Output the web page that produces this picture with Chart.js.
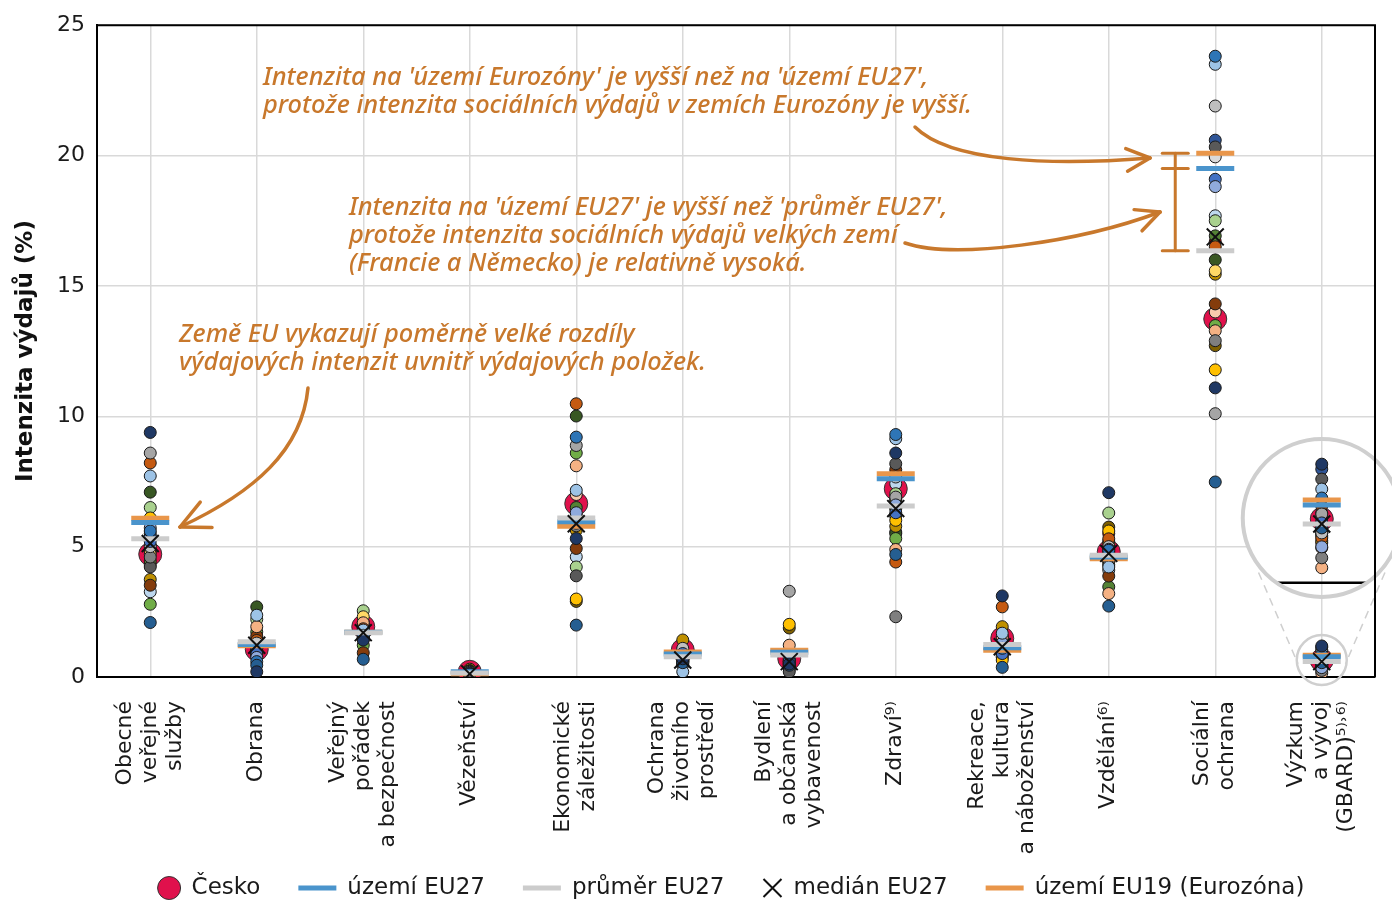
<!DOCTYPE html>
<html><head><meta charset="utf-8">
<script src="https://cdn.jsdelivr.net/npm/chart.js@4.4.1/dist/chart.umd.min.js"></script>
<style>html,body{margin:0;padding:0;background:#fff}#wrap{width:1392px;height:901px}</style>
</head><body><div id="wrap"><canvas id="c" width="1392" height="901"></canvas></div>
<script>
// ---------- DATA ----------
const categories = [
  ['Obecné','veřejné','služby'],
  ['Obrana'],
  ['Veřejný','pořádek','a bezpečnost'],
  ['Vězeňství'],
  ['Ekonomické','záležitosti'],
  ['Ochrana','životního','prostředí'],
  ['Bydlení','a občanská','vybavenost'],
  ['Zdraví⁹⁾'],
  ['Rekreace,','kultura','a náboženství'],
  ['Vzdělání⁶⁾'],
  ['Sociální','ochrana'],
  ['Výzkum','a vývoj','(GBARD)⁵⁾˒⁶⁾']
];
const yTicks = [0, 5, 10, 15, 20, 25];

const cesko      = [4.71, 1.06, 1.93, 0.20, 6.65, 1.03, 0.71, 7.22, 1.48, 4.80, 13.73, 0.64];
const uzemiEU27  = [5.93, 1.25, 1.72, 0.20, 5.95, 0.88, 0.95, 7.60, 1.12, 4.60, 19.50, 0.78];
const prumerEU27 = [5.30, 1.35, 1.70, 0.15, 6.10, 0.78, 0.84, 6.56, 1.25, 4.67, 16.35, 0.59];
const medianEU27 = [5.12, 1.22, 1.70, 0.12, 5.88, 0.65, 0.59, 6.46, 1.16, 4.74, 16.88, 0.59];
const uzemiEU19  = [6.09, 1.20, 1.72, 0.12, 5.78, 0.96, 1.03, 7.80, 1.03, 4.54, 20.09, 0.83];

const countries = ['BE','BG','DK','DE','EE','IE','EL','ES','FR','HR','IT','CY','LV','LT','LU','HU','MT','NL','AT','PL','PT','RO','SI','SK','FI','SE'];

// values of the other member states, one array per category (order = countries)
const obecneSluzby   = [9.38, 2.09, 5.6, 7.71, 5.72, 5.2, 5.0, 8.59, 4.6, 4.22, 8.21, 5.05, 3.52, 6.10, 4.71, 3.74, 4.9, 6.50, 2.79, 4.45, 7.09, 4.8, 5.4, 3.27, 4.3, 5.5];
const obrana         = [0.2, 0.45, 0.59, 2.37, 0.75, 1.0, 1.3, 1.1, 0.95, 0.88, 1.4, 1.93, 1.57, 1.2, 1.15, 1.25, 0.9, 2.21, 1.73, 1.35, 2.69, 1.1, 1.45, 1.0, 1.3, 0.8];
const poradek        = [1.42, 0.68, 1.6, 1.8, 1.5, 1.75, 1.7, 1.65, 1.55, 1.6, 1.85, 2.08, 0.93, 1.9, 2.31, 1.8, 1.5, 2.54, 1.22, 1.7, 1.9, 1.75, 2.0, 1.45, 2.1, 1.6];
const vezenstvi      = [0.12, 0.1, 0.15, 0.18, 0.14, 0.1, 0.2, 0.16, 0.12, 0.18, 0.22, 0.15, 0.25, 0.3, 0.2, 0.28, 0.14, 0.12, 0.16, 0.1, 0.08, 0.13, 0.17, 0.09, 0.11, 0.19];
const ekonomicke     = [5.31, 1.99, 9.2, 7.16, 6.3, 5.9, 6.0, 8.88, 5.8, 3.88, 10.48, 8.1, 4.93, 2.99, 6.2, 5.63, 2.9, 4.22, 8.59, 6.5, 10.01, 5.7, 6.1, 4.61, 7.0, 5.85];
const zivotniProstr  = [0.7, 0.55, 0.8, 0.2, 0.6, 0.9, 1.1, 1.05, 0.65, 0.46, 0.75, 0.85, 0.95, 1.0, 0.7, 1.42, 0.6, 0.8, 0.65, 0.55, 0.7, 0.6, 0.9, 0.5, 0.75, 0.65];
const bydleni        = [0.5, 0.45, 0.6, 0.7, 0.55, 0.5, 0.8, 3.29, 0.6, 0.2, 0.65, 1.22, 0.39, 2.02, 0.9, 0.75, 1.88, 0.5, 0.4, 0.45, 0.35, 0.6, 0.8, 0.55, 0.9, 0.3];
const zdravi         = [8.59, 4.7, 9.3, 9.14, 6.6, 6.3, 7.67, 6.9, 2.31, 8.18, 4.41, 4.89, 7.95, 6.01, 6.2, 5.78, 6.74, 7.03, 5.31, 6.46, 5.5, 6.5, 6.8, 7.41, 6.2, 5.56];
const rekreace       = [3.11, 0.37, 1.1, 1.68, 1.3, 0.9, 1.2, 1.3, 1.0, 0.97, 2.69, 1.5, 1.44, 0.65, 0.8, 1.93, 1.55, 1.1, 0.9, 1.2, 1.0, 0.85, 1.25, 1.15, 0.75, 1.05];
const vzdelani       = [7.07, 2.72, 4.86, 4.22, 4.6, 4.9, 5.0, 4.7, 4.5, 4.75, 5.3, 3.2, 3.87, 5.6, 4.48, 5.12, 5.75, 6.29, 4.4, 3.46, 4.3, 5.5, 5.2, 4.1, 4.8, 4.6];
const socialniOchr   = [11.09, 7.48, 23.81, 23.5, 18.81, 19.09, 21.9, 10.1, 12.9, 20.33, 16.5, 13.28, 14.31, 11.78, 15.58, 15.45, 12.71, 17.5, 13.48, 16.92, 16.0, 16.7, 20.59, 17.69, 14.0, 19.95];
const vyzkum         = [1.19, 0.55, 0.85, 0.94, 0.36, 0.6, 0.5, 0.69, 0.25, 1.04, 0.45, 0.15, 0.77, 0.42, 0.5, 0.6, 0.55, 0.65, 0.47, 0.6, 0.7, 0.4, 1.14, 0.55, 0.35, 0.5];

const valuesByCategory = [obecneSluzby, obrana, poradek, vezenstvi, ekonomicke, zivotniProstr, bydleni, zdravi, rekreace, vzdelani, socialniOchr, vyzkum];

const legendLabels = ['Česko', 'území EU27', 'průměr EU27', 'medián EU27', 'území EU19 (Eurozóna)'];
const annotationTexts = [
  ["Intenzita na 'území Eurozóny' je vyšší než na 'území EU27',", "protože intenzita sociálních výdajů v zemích Eurozóny je vyšší."],
  ["Intenzita na 'území EU27' je vyšší než 'průměr EU27',", "protože intenzita sociálních výdajů velkých zemí", "(Francie a Německo) je relativně vysoká."],
  ["Země EU vykazují poměrně velké rozdíly", "výdajových intenzit uvnitř výdajových položek."]
];

// ---------- STYLES ----------
const countryColors = ['#1f3864','#255e91','#2e75b6','#9dc3e6','#8faadc','#4472c4','#bfbfbf','#a5a5a5','#7f7f7f','#595959','#c55a11','#f4b183','#843c0c','#ffc000','#ffd966','#bf9000','#7f6000','#a9d18e','#70ad47','#548235','#385723','#ff0000','#2f5597','#bdd7ee','#f8cbad','#d9d9d9'];
const C_CZ = '#e0114c', C_EU27 = '#4a94cc', C_MEAN = '#cccccc', C_EU19 = '#e9964a', C_ANNO = '#c8782c';
const FONT = '"DejaVu Sans", sans-serif';
const annoPos = [ {x: 263, y: 78}, {x: 349, y: 208}, {x: 179, y: 335} ];
const lineGap = 28;

Chart.defaults.font.family = FONT;
Chart.defaults.font.size = 22;
Chart.defaults.color = '#1a1a1a';

function padLabel(lines) {
  const slots = ['', '', '', '', ''];
  const start = 2 - (lines.length - 1);
  lines.forEach((l, j) => { slots[start + 2 * j] = l; });
  return slots;
}

const datasets = [];
datasets.push({ label: legendLabels[0], data: cesko, pointRadius: 11.5, pointBackgroundColor: C_CZ, pointBorderColor: '#333', pointBorderWidth: 1, order: 10 });
countries.forEach((name, i) => {
  datasets.push({ label: name, data: valuesByCategory.map(col => col[i]), pointRadius: 6, pointBackgroundColor: countryColors[i], pointBorderColor: '#1a1a1a', pointBorderWidth: 1, order: 5 });
});
datasets.push({ label: legendLabels[4], data: uzemiEU19, pointStyle: 'line', pointRadius: 19, pointBorderColor: C_EU19, pointBackgroundColor: C_EU19, pointBorderWidth: 5, order: 3 });
datasets.push({ label: legendLabels[1], data: uzemiEU27, pointStyle: 'line', pointRadius: 19, pointBorderColor: C_EU27, pointBackgroundColor: C_EU27, pointBorderWidth: 5, order: 2 });
datasets.push({ label: legendLabels[2], data: prumerEU27, pointStyle: 'line', pointRadius: 19, pointBorderColor: C_MEAN, pointBackgroundColor: C_MEAN, pointBorderWidth: 5, order: 1 });
datasets.push({ label: legendLabels[3], data: medianEU27, pointStyle: 'crossRot', pointRadius: 12, pointBorderColor: '#111', pointBackgroundColor: '#111', pointBorderWidth: 2, order: 0 });
datasets.forEach(d => { d.showLine = false; });

function ds(label) { return datasets.find(d => d.label === label); }

function arrow(ctx, pts, barb) {
  ctx.beginPath();
  ctx.moveTo(pts[0][0], pts[0][1]);
  ctx.bezierCurveTo(pts[1][0], pts[1][1], pts[2][0], pts[2][1], pts[3][0], pts[3][1]);
  ctx.stroke();
  const [ex, ey] = pts[3];
  const ang = Math.atan2(ey - pts[2][1], ex - pts[2][0]);
  [0.45, -0.45].forEach(da => {
    ctx.beginPath();
    ctx.moveTo(ex, ey);
    ctx.lineTo(ex - barb * Math.cos(ang + da), ey - barb * Math.sin(ang + da));
    ctx.stroke();
  });
}

const extras = {
  id: 'extras',
  afterDatasetsDraw(chart) {
    const { ctx, chartArea: a, scales: { x, y } } = chart;
    // ---- magnifier ----
    const cat = 11, R = 79, r = 25, k = 3.82;
    const cx = x.getPixelForValue(cat);
    const by = y.getPixelForValue(6.1), sy = y.getPixelForValue(0.65);
    const map = py => by + (py - sy) * k;
    ctx.save();
    ctx.strokeStyle = '#cfcfcf'; ctx.lineWidth = 1.5; ctx.setLineDash([8, 6]);
    [-1, 1].forEach(s => {
      ctx.beginPath();
      ctx.moveTo(cx + s * 0.80 * R, by + 0.69 * R);
      ctx.lineTo(cx + s * 0.95 * r, sy + 0.15 * r);
      ctx.stroke();
    });
    ctx.restore();
    ctx.save();
    ctx.beginPath(); ctx.arc(cx, by, R, 0, Math.PI * 2); ctx.fillStyle = '#fff'; ctx.fill(); ctx.clip();
    ctx.strokeStyle = '#d9d9d9'; ctx.lineWidth = 1.5;
    ctx.beginPath(); ctx.moveTo(cx, by - R); ctx.lineTo(cx, by + R); ctx.stroke();
    ctx.strokeStyle = '#000'; ctx.lineWidth = 2.5;
    const z = map(y.getPixelForValue(0));
    ctx.beginPath(); ctx.moveTo(cx - R, z); ctx.lineTo(a.right, z); ctx.stroke();
    const metas = chart.getSortedVisibleDatasetMetas();
    for (let i = metas.length - 1; i >= 0; i--) {
      const el = metas[i].data[cat];
      if (!el) continue;
      const oy = el.y; el.y = map(oy); el.draw(ctx); el.y = oy;
    }
    ctx.restore();
    ctx.save();
    ctx.strokeStyle = '#cfcfcf';
    ctx.lineWidth = 4; ctx.beginPath(); ctx.arc(cx, by, R, 0, Math.PI * 2); ctx.stroke();
    ctx.lineWidth = 2.5; ctx.beginPath(); ctx.arc(cx, sy, r, 0, Math.PI * 2); ctx.stroke();
    ctx.strokeStyle = '#000'; ctx.lineWidth = 2;
    ctx.beginPath(); ctx.moveTo(a.left, a.top); ctx.lineTo(a.right, a.top); ctx.lineTo(a.right, a.bottom); ctx.stroke();
    ctx.restore();

    // ---- annotations ----
    ctx.save();
    ctx.fillStyle = C_ANNO; ctx.strokeStyle = C_ANNO;
    ctx.textBaseline = 'middle'; ctx.textAlign = 'left';
    ctx.font = 'italic 500 24px "Noto Sans"';
    const w = ctx.measureText(annotationTexts[0][1]).width;
    const size = 24 * 709 / w;
    ctx.font = `italic 500 ${size.toFixed(2)}px "Noto Sans"`;
    annotationTexts.forEach((lines, i) => {
      lines.forEach((t, j) => ctx.fillText(t, annoPos[i].x, annoPos[i].y + j * lineGap));
    });
    ctx.lineWidth = 3.5; ctx.lineCap = 'round'; ctx.lineJoin = 'round';
    arrow(ctx, [[915, 127], [950, 162], [1050, 166], [1150, 158]], 26);
    arrow(ctx, [[905, 243], [955, 260], [1080, 242], [1160, 212]], 26);
    arrow(ctx, [[308, 388], [302, 450], [255, 492], [180, 527]], 32);
    const bx = x.getPixelForValue(10) - 40;
    const yTop = y.getPixelForValue(uzemiEU19[10]), yMid = y.getPixelForValue(uzemiEU27[10]), yBot = y.getPixelForValue(prumerEU27[10]);
    ctx.lineWidth = 3;
    ctx.beginPath(); ctx.moveTo(bx, yTop); ctx.lineTo(bx, yBot); ctx.stroke();
    [yTop, yMid, yBot].forEach(yy => { ctx.beginPath(); ctx.moveTo(bx - 13, yy); ctx.lineTo(bx + 13, yy); ctx.stroke(); });
    ctx.restore();

    // ---- legend ----
    ctx.save();
    ctx.font = `23px ${FONT}`; ctx.textBaseline = 'middle'; ctx.fillStyle = '#1a1a1a';
    const items = [
      { sym: 'circle', d: ds(legendLabels[0]), w: 23 },
      { sym: 'line', d: ds(legendLabels[1]), w: 38 },
      { sym: 'line', d: ds(legendLabels[2]), w: 38 },
      { sym: 'cross', d: ds(legendLabels[3]), w: 20 },
      { sym: 'line', d: ds(legendLabels[4]), w: 38 }
    ];
    const symGap = 11, itemGap = 38, ly = 888;
    let total = 0;
    items.forEach((it, i) => { it.tw = ctx.measureText(it.d.label).width; total += it.w + symGap + it.tw + (i ? itemGap : 0); });
    let lx = 731 - total / 2;
    items.forEach(it => {
      if (it.sym === 'circle') {
        ctx.beginPath(); ctx.arc(lx + 11.5, ly, 11.5, 0, Math.PI * 2); ctx.fillStyle = it.d.pointBackgroundColor; ctx.fill();
        ctx.strokeStyle = '#333'; ctx.lineWidth = 1; ctx.stroke();
      } else if (it.sym === 'line') {
        ctx.strokeStyle = it.d.pointBorderColor; ctx.lineWidth = 5;
        ctx.beginPath(); ctx.moveTo(lx, ly); ctx.lineTo(lx + it.w, ly); ctx.stroke();
      } else {
        ctx.strokeStyle = '#111'; ctx.lineWidth = 2;
        ctx.beginPath(); ctx.moveTo(lx + 1, ly - 9); ctx.lineTo(lx + 19, ly + 9); ctx.moveTo(lx + 19, ly - 9); ctx.lineTo(lx + 1, ly + 9); ctx.stroke();
      }
      lx += it.w + symGap;
      ctx.fillStyle = '#1a1a1a';
      ctx.fillText(it.d.label, lx, ly);
      lx += it.tw + itemGap;
    });
    ctx.restore();
  }
};

new Chart(document.getElementById('c'), {
  type: 'line',
  data: { labels: categories.map(c => c.join(' ')), datasets },
  options: {
    responsive: false, animation: false, events: [],
    layout: { autoPadding: false, padding: { left: 0, right: 17, top: 24, bottom: 41 } },
    plugins: { legend: { display: false }, tooltip: { enabled: false } },
    scales: {
      x: {
        type: 'category', offset: true,
        grid: { color: '#d9d9d9', lineWidth: 1.5, drawTicks: false },
        border: { color: '#000', width: 2 },
        ticks: {
          autoSkip: false, maxRotation: 90, minRotation: 90, padding: 24, labelOffset: -25,
          font: { size: 22, lineHeight: '12.5px' }, color: '#1a1a1a',
          callback: (v, i) => padLabel(categories[i])
        },
        afterFit: s => { s.height = 183; s.paddingLeft = 0; s.paddingRight = 0; }
      },
      y: {
        min: 0, max: 25,
        afterBuildTicks: s => { s.ticks = yTicks.map(v => ({ value: v })); },
        ticks: { padding: 12, font: { size: 22 }, color: '#1a1a1a' },
        grid: { color: '#d9d9d9', lineWidth: 1.5, drawTicks: false },
        border: { color: '#000', width: 2 },
        title: { display: true, text: 'Intenzita výdajů (%)', font: { size: 23, weight: 'bold' }, color: '#111', padding: { top: 12, bottom: 0 } },
        afterFit: s => { s.width = 97; }
      }
    }
  },
  plugins: [extras]
});
</script>
</body></html>
